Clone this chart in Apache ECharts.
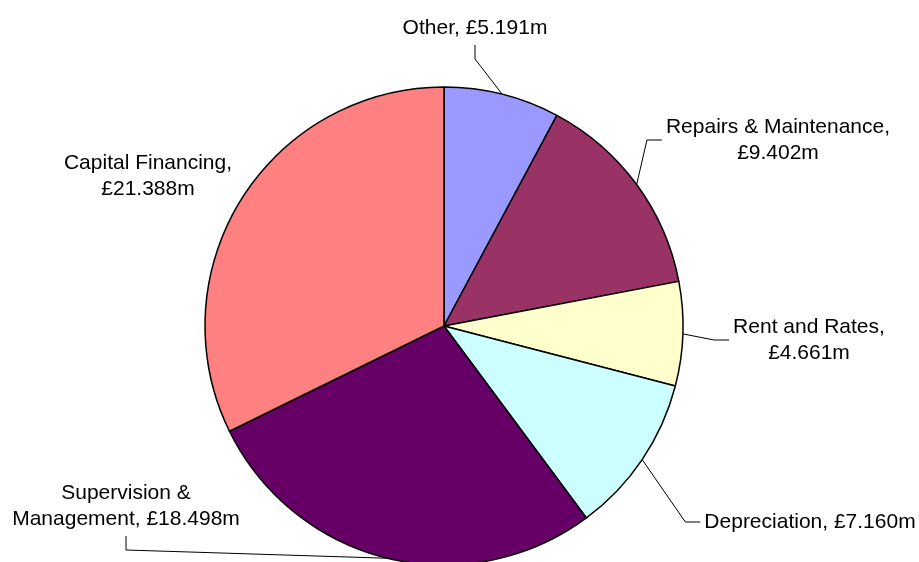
<!DOCTYPE html>
<html>
<head>
<meta charset="utf-8">
<style>
  html, body { margin: 0; padding: 0; background: #ffffff; }
  #chart { width: 919px; height: 562px; }
</style>
<script src="https://cdn.jsdelivr.net/npm/echarts@6/dist/echarts.min.js"></script>
</head>
<body>
<div id="chart"></div>
<script>
// Expenditure categories, clockwise from twelve o'clock
const categories = [
  'Other',
  'Repairs & Maintenance',
  'Rent and Rates',
  'Depreciation',
  'Supervision & Management',
  'Capital Financing'
];
// Spend per category, £ millions
const amounts = [5.191, 9.402, 4.661, 7.160, 18.498, 21.388];
const sliceColours = ['#9999FF', '#993366', '#FFFFCC', '#CCFFFF', '#660066', '#FF8080'];

// Where each label sits (centre of the text block) and how its leader line meets it
const labelCentres = [[475, 28], [778, 140], [809, 340], [810, 522], [126, 506], [148, 176]];
const leaderSide = ['bottom', 'left', 'left', 'left', 'bottom', null];

function labelText(i) {
  const name = categories[i];
  const money = '£' + amounts[i].toFixed(3) + 'm';
  if (i === 0 || i === 3) return name + ', ' + money;
  if (i === 4) return 'Supervision &\nManagement, ' + money;
  return name + ',\n' + money;
}

const chart = echarts.init(document.getElementById('chart'), null, { renderer: 'canvas' });

chart.setOption({
  backgroundColor: '#ffffff',
  animation: false,
  series: [{
    type: 'pie',
    center: [444, 326],
    radius: 239,
    startAngle: 90,
    clockwise: true,
    avoidLabelOverlap: false,
    itemStyle: { borderColor: '#000000', borderWidth: 1.5 },
    label: {
      show: true,
      position: 'outside',
      color: '#000000',
      fontFamily: 'Liberation Sans, Arial, sans-serif',
      fontSize: 21,
      lineHeight: 26,
      align: 'center',
      formatter: p => labelText(p.dataIndex)
    },
    labelLine: {
      show: true,
      lineStyle: { color: '#000000', width: 1 }
    },
    emphasis: { disabled: true },
    labelLayout: function (params) {
      const i = params.dataIndex;
      const c = labelCentres[i];
      const w = params.labelRect.width;
      const h = params.labelRect.height;
      const out = { x: c[0], y: c[1], align: 'center', verticalAlign: 'middle' };
      const pts = params.labelLinePoints;
      const side = leaderSide[i];
      if (pts && side) {
        const start = pts[0];
        if (side === 'left') {
          const left = c[0] - w / 2;
          out.labelLinePoints = [start, [left - 19, c[1]], [left - 4, c[1]]];
        } else {
          const bottom = c[1] + h / 2;
          out.labelLinePoints = [start, [c[0], bottom + 18], [c[0], bottom + 4]];
        }
      }
      return out;
    },
    data: categories.map((name, i) => ({
      name: name,
      value: amounts[i],
      itemStyle: { color: sliceColours[i] },
      labelLine: { show: leaderSide[i] !== null }
    }))
  }]
});
</script>
</body>
</html>
